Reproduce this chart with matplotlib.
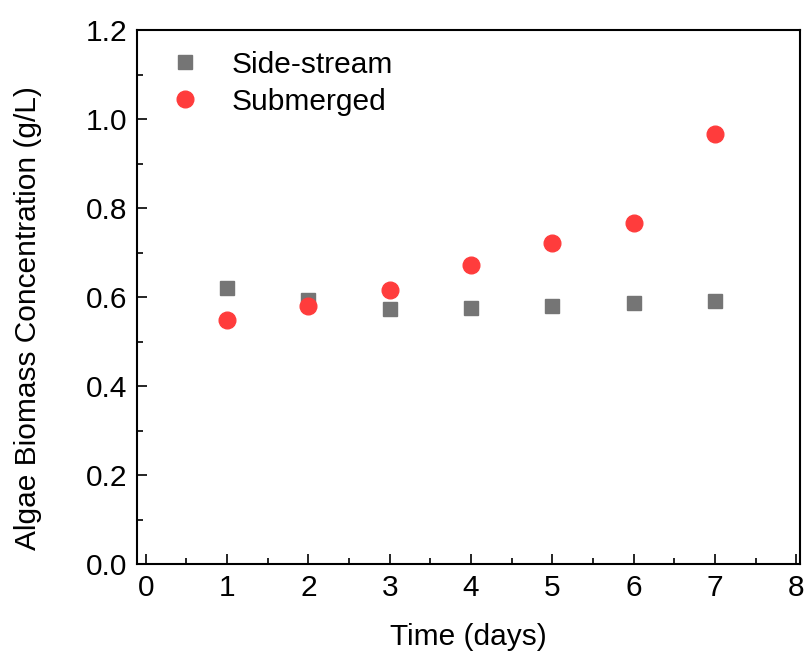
import matplotlib
matplotlib.use('Agg')
import matplotlib.pyplot as plt
from matplotlib.ticker import MultipleLocator

plt.rcParams['font.family'] = ['Liberation Sans', 'DejaVu Sans']

days = [1, 2, 3, 4, 5, 6, 7]
side_stream = [0.620, 0.593, 0.573, 0.576, 0.580, 0.587, 0.590]
submerged = [0.548, 0.579, 0.615, 0.672, 0.722, 0.767, 0.966]

fig = plt.figure(figsize=(8.1, 6.54), dpi=100)
ax = fig.add_axes([0.169, 0.1376, 0.819, 0.8165])

ax.plot(days, side_stream, 's', color='#757575', markersize=10.5, label='Side-stream', linestyle='none')
ax.plot(days, submerged, 'o', color='#ff3c3c', markersize=12, label='Submerged', linestyle='none')

ax.set_xlim(-0.11, 8.05)
ax.set_ylim(0, 1.2)
ax.xaxis.set_major_locator(MultipleLocator(1))
ax.xaxis.set_minor_locator(MultipleLocator(0.5))
ax.yaxis.set_major_locator(MultipleLocator(0.2))
ax.yaxis.set_minor_locator(MultipleLocator(0.1))
ax.yaxis.set_major_formatter(plt.FormatStrFormatter('%.1f'))

ax.tick_params(which='both', direction='in', top=False, right=False, labelsize=21.5, width=1.2)
ax.tick_params(which='major', length=7, pad=7)
ax.tick_params(which='minor', length=4)
for s in ax.spines.values():
    s.set_linewidth(1.5)

ax.set_xlabel('Time (days)', fontsize=21.5, labelpad=15)
ax.set_ylabel('Algae Biomass Concentration (g/L)', fontsize=21.5)
ax.yaxis.set_label_coords(-0.143, 0.461)

ax.legend(loc='upper left', frameon=False, fontsize=21.5, handletextpad=0.8, handlelength=1.5,
          borderaxespad=0.3, labelspacing=0.3, bbox_to_anchor=(0.007, 1.0))

fig.savefig('out.png', dpi=100)
